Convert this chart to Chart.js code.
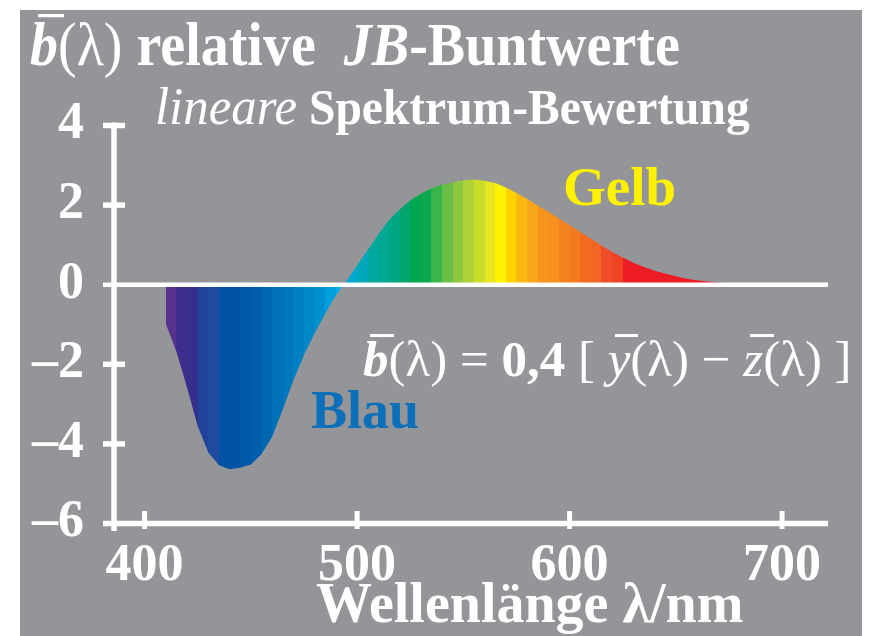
<!DOCTYPE html>
<html>
<head>
<meta charset="utf-8">
<script src="https://cdn.jsdelivr.net/npm/chart.js@4.4.1/dist/chart.umd.min.js"></script>
<style>
  html, body { margin: 0; padding: 0; background: #ffffff; }
  #wrap { position: relative; width: 870px; height: 636px; overflow: hidden; }
  canvas { position: absolute; left: 0; top: 0; }
  .t { position: absolute; white-space: nowrap; line-height: 1; font-family: 'Liberation Serif', 'Times New Roman', serif; font-weight: bold; color: #ffffff; transform-origin: 0 0; }
  .ov { position: relative; }
  .ov::before { content: ''; position: absolute; left: 0.14em; width: 0.46em; top: 0.06em; border-top: 3px solid currentColor; }
  .n { font-weight: normal; }
</style>
</head>
<body>
<div id="wrap">
  <canvas id="chart" width="870" height="636"></canvas>
  <div class="t" style="left:30px; top:14px; font-size:56px; transform:scale(1,1.08);"><i class="ov">b</i><span class="n">(λ)</span> relative&nbsp; <i>JB</i>-Buntwerte</div>
  <div class="t" style="left:155px; top:80px; font-size:50px; transform:scale(0.95,1);"><i class="n" style="font-size:1.07em;">lineare</i> Spektrum-Bewertung</div>
  <div class="t" style="left:363px; top:334px; font-size:51px;"><i class="ov">b</i><span class="n">(λ) = </span>0,4<span class="n"> [ <i class="ov">y</i>(λ) − <i class="ov">z</i>(λ) ]</span></div>
  <div class="t" style="left:563px; top:159px; font-size:55px; color:#fff200;">Gelb</div>
  <div class="t" style="left:311px; top:383px; font-size:54px; color:#0b6fba;">Blau</div>
  <div class="t" style="left:316px; top:575px; font-size:56px;">Wellenlänge λ/nm</div>
</div>
<script>
// ---- data ----
const wavelengths = [410,415,420,425,430,435,440,445,450,455,460,465,470,475,480,485,490,495,500,505,510,515,520,525,530,535,540,545,550,555,560,565,570,575,580,585,590,595,600,605,610,615,620,625,630,635,640,645,650,655,660,665,670,675];
const bValues = [-1.0,-1.70,-2.60,-3.57,-4.23,-4.55,-4.65,-4.61,-4.53,-4.27,-3.83,-3.15,-2.42,-1.78,-1.23,-0.74,-0.28,0.08,0.47,0.86,1.25,1.61,1.88,2.10,2.27,2.41,2.50,2.56,2.61,2.63,2.60,2.54,2.43,2.29,2.14,1.98,1.82,1.65,1.48,1.31,1.14,0.97,0.81,0.67,0.54,0.43,0.34,0.27,0.20,0.14,0.10,0.07,0.04,0.02];
// colour of each 5 nm stripe, starting at wavelengths[i]
const stripeColors = ['#58308f','#3b2e8e','#362f8e','#22439a','#1f4aa0','#0053a5','#0053a5','#0058a8','#005eac','#0066b1','#0070b8','#0077bd','#0080c3','#0088c9','#0090d0','#00a0dc','#00aeef','#00a9d0','#00a8bb','#00a99d','#00a894','#00a783','#00a66b','#00a650','#0aa84f','#3bb54a','#6abd45','#8dc63f','#afd136','#cadb2a','#e6e51e','#fff200','#ffd400','#fdb913','#f9a61b','#f7941d','#f6901e','#f58220','#f47a20','#f26b21','#f26522','#ef4c27','#ee4426','#ed1c24','#ed1c24','#ec1c24','#ed1c24','#ec1c24','#ed1c24','#ec1c24','#ed1c24','#ec1c24','#ed1c24'];
const xTicks = [400,500,600,700];
const yTicks = [-6,-4,-2,0,2,4];

const FONT = "'Liberation Serif', 'Times New Roman', serif";

function stripeFill(context) {
  const chart = context.chart;
  const area = chart.chartArea;
  if (!area) return stripeColors[0];
  const xs = chart.scales.x;
  const x0 = xs.getPixelForValue(wavelengths[0]);
  const x1 = xs.getPixelForValue(wavelengths[wavelengths.length - 1]);
  const g = chart.ctx.createLinearGradient(x0, 0, x1, 0);
  for (let i = 0; i < stripeColors.length; i++) {
    const a = (xs.getPixelForValue(wavelengths[i]) - x0) / (x1 - x0);
    const b = (xs.getPixelForValue(wavelengths[i + 1]) - x0) / (x1 - x0);
    g.addColorStop(Math.max(0, Math.min(1, a)), stripeColors[i]);
    g.addColorStop(Math.max(0, Math.min(1, b)), stripeColors[i]);
  }
  return g;
}

const bgPlugin = {
  id: 'bg',
  beforeDraw(chart) {
    const ctx = chart.ctx;
    ctx.save();
    ctx.fillStyle = '#939598';
    ctx.fillRect(20, 10, 842, 626);
    ctx.restore();
  }
};

const axesPlugin = {
  id: 'axesLines',
  afterDatasetsDraw(chart) {
    const ctx = chart.ctx;
    const xs = chart.scales.x, ys = chart.scales.y;
    const ax = xs.left;
    ctx.save();
    ctx.strokeStyle = '#ffffff';
    ctx.lineCap = 'butt';
    function line(x1, y1, x2, y2, w) {
      ctx.lineWidth = w;
      ctx.beginPath(); ctx.moveTo(x1, y1); ctx.lineTo(x2, y2); ctx.stroke();
    }
    // y axis
    line(ax, ys.getPixelForValue(4) - 2.5, ax, ys.getPixelForValue(-6) + 8, 5.5);
    // y ticks (zero and bottom lines span the whole plot)
    yTicks.forEach(v => {
      const py = ys.getPixelForValue(v) + 0.5;
      const full = (v === 0 || v === -6);
      line(ax - 11, py, full ? xs.right : ax + 11, py, v === 0 ? 4.5 : 5.5);
    });
    // x ticks
    xTicks.forEach(v => {
      const px = xs.getPixelForValue(v);
      line(px, ys.bottom - 12, px, ys.bottom + 6, 5);
    });
    ctx.restore();
  }
};

new Chart(document.getElementById('chart'), {
  type: 'line',
  data: {
    datasets: [{
      data: wavelengths.map((w, i) => ({ x: w, y: bValues[i] })),
      fill: 'origin',
      borderWidth: 0,
      borderColor: 'rgba(0,0,0,0)',
      pointRadius: 0,
      tension: 0,
      backgroundColor: stripeFill
    }]
  },
  options: {
    responsive: false,
    animation: false,
    layout: { padding: { top: 125, right: 42, left: 0, bottom: 0 } },
    plugins: { legend: { display: false }, tooltip: { enabled: false }, title: { display: false } },
    scales: {
      x: {
        type: 'linear', min: 385.6, max: 721.6,
        afterBuildTicks: s => { s.ticks = xTicks.map(v => ({ value: v })); },
        afterFit: s => { s.height = 113; },
        grid: { display: false, drawTicks: false },
        border: { display: false },
        ticks: { color: '#ffffff', font: { family: FONT, size: 52, weight: 'bold' }, padding: 12, maxRotation: 0, autoSkip: false, callback: v => String(v) }
      },
      y: {
        type: 'linear', min: -6, max: 4,
        afterBuildTicks: s => { s.ticks = yTicks.map(v => ({ value: v })); },
        afterFit: s => { s.width = 114; },
        grid: { display: false, drawTicks: false },
        border: { display: false },
        ticks: { color: '#ffffff', font: { family: FONT, size: 52, weight: 'bold' }, padding: 30, autoSkip: false, callback: v => (v < 0 ? '–' + Math.abs(v) : String(v)) }
      }
    }
  },
  plugins: [bgPlugin, axesPlugin]
});
</script>
</body>
</html>
